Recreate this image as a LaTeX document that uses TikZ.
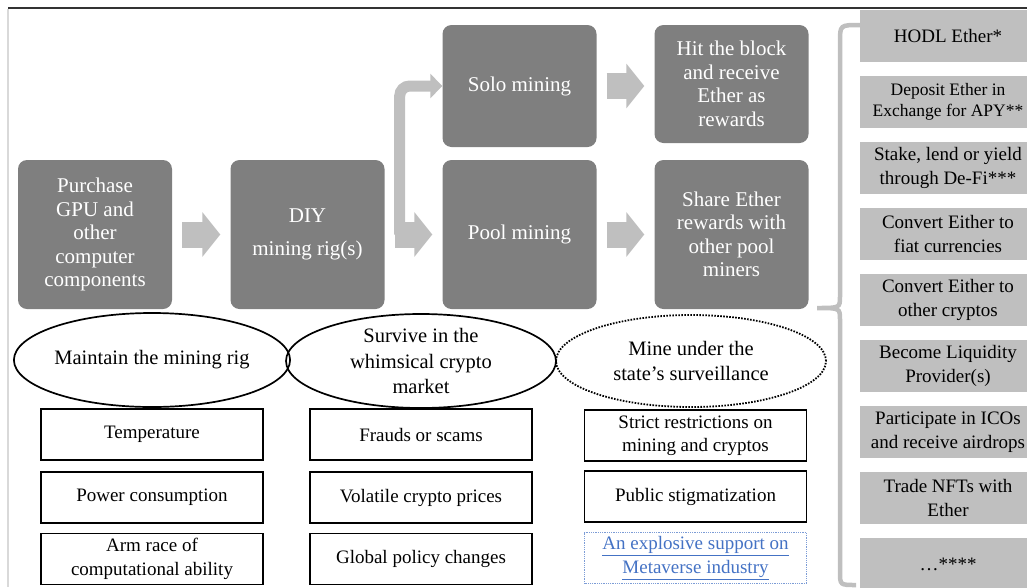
\documentclass[tikz,border=0pt]{standalone}
\usepackage{fontspec}
\setmainfont{Liberation Serif}
\usetikzlibrary{arrows.meta,shapes.geometric}

\definecolor{darkbox}{RGB}{127,127,127}
\definecolor{lightbox}{RGB}{191,191,191}
\definecolor{linkblue}{RGB}{68,114,196}

\begin{document}
\begin{tikzpicture}[x=1pt,y=-1pt,
  stage/.style={rectangle,rounded corners=9pt,fill=darkbox,text=white,minimum width=154pt,minimum height=#1,inner sep=0pt,align=center,font=\fontsize{21}{23.5}\selectfont},
  blk/.style={lightbox,line width=26pt,-{Triangle[length=18pt,width=44pt]},shorten <=10pt,shorten >=10pt},
  goal/.style={ellipse,draw,line width=1.7pt,minimum width=270pt,minimum height=94pt,inner sep=0pt,align=center,font=\fontsize{20.5}{25.5}\selectfont},
  risk/.style={rectangle,draw,line width=1.2pt,minimum width=222pt,minimum height=51pt,inner sep=0pt,align=center,font=\fontsize{19}{23.5}\selectfont},
  payout/.style 2 args={rectangle,fill=lightbox,minimum width=176pt,minimum height=52pt,inner sep=0pt,align=center,font=\fontsize{#1}{#2}\selectfont},
  brc/.style={lightbox,line width=4.5pt}]
\useasboundingbox (0,0) rectangle (1027,587);
\draw[black!80,line width=2pt] (8,8) -- (1027,8);
\draw[black!15,line width=1.2pt] (8,9) -- (8,587);

\node[stage=149pt] (buy) at (95,234.5) {Purchase\\GPU and\\other\\computer\\components};
\node[stage=149pt] (diy) at (307.5,234.5) {DIY\\[10pt]mining rig(s)};
\node[stage=122pt] (solo) at (519.5,86) {Solo mining};
\node[stage=149pt] (pool) at (519.5,234.5) {Pool mining};
\node[stage=118pt] (hit) at (731.5,84) {Hit the block\\and receive\\Ether as\\rewards};
\node[stage=149pt] (share) at (731.5,234.5) {Share Ether\\rewards with\\other pool\\miners};

\draw[blk] (buy) -- (diy);
\draw[blk] (diy) -- (pool);
\draw[lightbox,line width=11pt,rounded corners=10pt,-{Triangle[length=12pt,width=24pt]}]
   ([xshift=15pt]diy.east) |- (solo.west);
\draw[blk] (solo.east) -- (solo.east -| hit.west);
\draw[blk] (pool) -- (share);

\node[goal] (rig) at (152,360) {Maintain the mining rig};
\node[goal] (mkt) at (421,361) {Survive in the\\whimsical crypto\\market};
\node[goal,dash pattern=on 1.6pt off 1.4pt,line width=1.8pt,minimum height=92pt] (state) at (691,361) {Mine under the\\state’s surveillance};

\node[risk] (temp) at (152,434.5) {Temperature};
\node[risk] (power) at (152,497.5) {Power consumption};
\node[risk] (arms) at (152,559) {Arm race of\\computational ability};
\node[risk] (fraud) at (421,434.5) {Frauds or scams};
\node[risk] (price) at (421,497.5) {Volatile crypto prices};
\node[risk] (policy) at (421,559) {Global policy changes};
\node[risk] (strict) at (695.5,435.5) {Strict restrictions on\\mining and cryptos};
\node[risk] (stigma) at (695.5,496.5) {Public stigmatization};
\node[risk,draw=linkblue!70,line width=0.8pt,densely dotted,text=linkblue] (meta) at (695.5,558)
   {\underline{An explosive support on}\\\underline{Metaverse industry}};

\foreach \i/\s/\b/\t in {0/19/24/{HODL Ether*},1/17.5/20.5/{Deposit Ether in\\Exchange for APY**},%
2/19/24/{Stake, lend or yield\\through De-Fi***},3/19/24/{Convert Either to\\fiat currencies},%
4/19/24/{Convert Either to\\other cryptos},5/19/24/{Become Liquidity\\Provider(s)},%
6/19/24/{Participate in ICOs\\and receive airdrops},7/19/24/{Trade NFTs with\\Ether},8/19/24/{…****}} {
   \node[payout={\s}{\b}] (out\i) at (948,{36+66*\i}) {\t};
}
\draw[brc] (860,25) .. controls (840,25) .. (840,42) -- (840,296)
   .. controls (840,308) .. (817,308) .. controls (840,308) .. (840,320)
   -- (840,572) .. controls (840,585) .. (856,585);
\end{tikzpicture}
\end{document}
